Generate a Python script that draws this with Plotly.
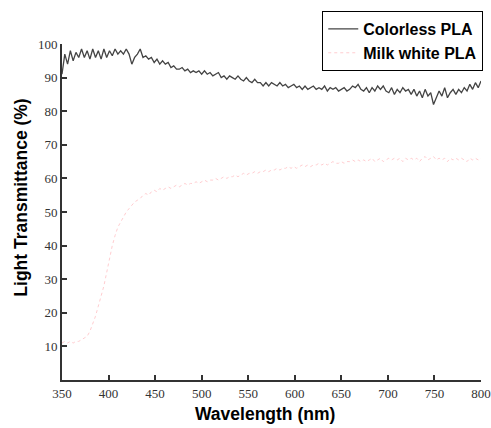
import plotly.graph_objects as go

wavelength = list(range(350, 801, 3))

colorless_pla = [
    91, 97, 94, 98, 95, 97.5, 96, 98.5, 96, 98,
    95.5, 98.5, 96, 98, 95.5, 98.5, 96, 98, 96.5, 98.5,
    97, 98, 97, 98.5, 97, 94, 96, 97, 98.5, 96,
    96.5, 95.5, 96, 94.5, 95.5, 94, 95, 94, 94.5, 93,
    93.5, 92.5, 92.5, 93, 92, 92.5, 91.5, 92, 91.5, 92,
    91, 92, 91, 91.5, 90.5, 91, 91.5, 90, 90.5, 89.5,
    90.5, 90, 89.5, 90.5, 89.5, 89, 90, 89, 88.5, 89.5,
    88.5, 88.5, 87.5, 88.5, 87.5, 88.5, 88, 87.5, 88.5, 87.5,
    88, 87, 87.5, 88, 87, 87.5, 86.5, 87.5, 86.5, 87,
    87.5, 86.5, 87, 86.5, 87.5, 86, 87, 86.5, 87, 86,
    86.5, 87, 86, 86.5, 87.5, 87, 88, 86.5, 86, 87,
    85.5, 87, 86, 87.5, 86.5, 87.5, 86, 85.5, 87, 85,
    86.5, 85.5, 87, 86, 86.5, 85, 86.5, 84.5, 86, 84,
    86.5, 84.5, 85.5, 82, 84, 86, 84.5, 87, 84, 85.5,
    86.5, 85, 86.5, 85.5, 87, 86, 88, 86.5, 88.5, 87,
    89,
]

milk_white_pla = [
    11, 11.5, 11, 11.5, 11, 11.5, 11.5, 12, 12.5, 13,
    14.5, 16.5, 19, 22, 25, 28, 32, 36.5, 40, 43,
    45.5, 47, 48.5, 50, 51, 52, 53, 53.5, 54, 55,
    55.5, 55, 56, 56.5, 56, 57, 56.5, 57, 57.5, 57,
    57.5, 58, 57.5, 58, 58.5, 58, 58.5, 58.5, 59, 58.5,
    59, 59.5, 59, 59.5, 59.5, 60, 59.5, 60, 60.5, 60,
    60.5, 60.5, 61, 60.5, 61, 61.5, 61, 61.5, 61.5, 62,
    61.5, 62, 62, 62.5, 62, 62.5, 62.5, 63, 62.5, 63,
    63, 63.5, 63, 63.5, 63, 63.5, 64, 63.5, 64, 63.5,
    64, 64, 64.5, 64, 64.5, 64, 64.5, 65, 64.5, 64.5,
    65, 64.5, 65, 65, 65.5, 65, 65.5, 65, 65.5, 65,
    65.5, 66, 65, 65.5, 66, 65, 65.5, 66, 65.5, 66,
    65.5, 66, 65, 66, 65.5, 66, 65.5, 66, 65, 66,
    66.5, 65.5, 66, 66.5, 65.5, 66, 65.5, 66, 65, 66,
    65.5, 66, 65.5, 66, 65.5, 65, 66, 65.5, 66, 65.5,
    66,
]

x_ticks = [350, 400, 450, 500, 550, 600, 650, 700, 750, 800]
y_ticks = [10, 20, 30, 40, 50, 60, 70, 80, 90, 100]

fig = go.Figure()
fig.add_trace(go.Scatter(
    x=wavelength, y=colorless_pla, mode="lines", name="Colorless PLA",
    line=dict(color="#444444", width=1.3),
))
fig.add_trace(go.Scatter(
    x=wavelength, y=milk_white_pla, mode="lines", name="Milk white PLA",
    line=dict(color="#ffcdd0", width=1, dash="dot"),
))

tick_font = dict(family="Liberation Serif, DejaVu Serif, serif", size=13, color="#333333")
title_font = dict(family="Liberation Sans, Arial, sans-serif", size=17.5, color="#000000")

fig.update_layout(
    width=491, height=428,
    margin=dict(l=62, r=9, t=44, b=48),
    paper_bgcolor="white", plot_bgcolor="white",
    showlegend=True,
    legend=dict(
        x=1.003, xanchor="right", y=1.098, yanchor="top",
        bgcolor="white", bordercolor="#000000", borderwidth=1,
        font=dict(family="Liberation Sans, Arial, sans-serif", size=16, color="#000000", weight="bold"),
        tracegroupgap=0, itemwidth=30,
    ),
    xaxis=dict(
        range=[350, 800], tickvals=x_ticks, ticktext=[str(v) for v in x_ticks],
        showline=True, linecolor="#333333", linewidth=2,
        ticks="inside", ticklen=5, tickwidth=1.5, tickcolor="#333333",
        showgrid=False, zeroline=False, tickfont=tick_font, automargin=False,
    ),
    yaxis=dict(
        range=[0, 100], tickvals=y_ticks, ticktext=[str(v) for v in y_ticks],
        showline=True, linecolor="#333333", linewidth=2,
        ticks="inside", ticklen=5, tickwidth=1.5, tickcolor="#333333",
        showgrid=False, zeroline=False, tickfont=tick_font, automargin=False,
    ),
    annotations=[
        dict(text="<b>Wavelength (nm)</b>", xref="paper", yref="paper",
             x=0.485, y=-0.102, xanchor="center", yanchor="middle",
             showarrow=False, font=title_font),
        dict(text="<b>Light Transmittance (%)</b>", xref="paper", yref="paper",
             x=-0.1, y=0.543, xanchor="center", yanchor="middle", textangle=-90,
             showarrow=False, font=title_font),
    ],
)

fig.write_html("out.html")
